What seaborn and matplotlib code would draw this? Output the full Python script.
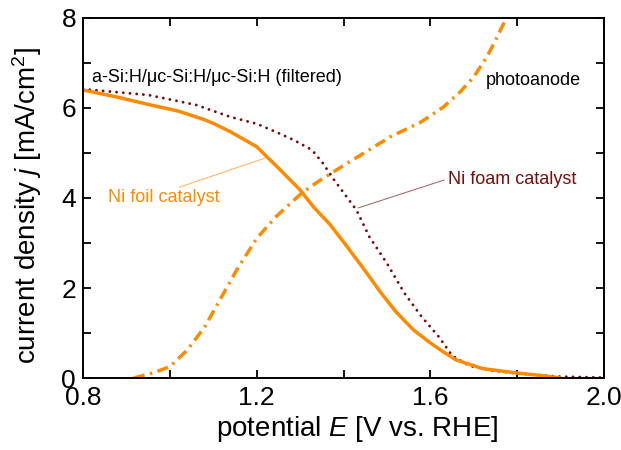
import numpy as np
import pandas as pd
import matplotlib
matplotlib.use("Agg")
import matplotlib.pyplot as plt
import seaborn as sns

# potential E [V vs. RHE] and current density j [mA/cm2]
foil_E = [0.80, 0.88, 0.95, 1.02, 1.08, 1.10, 1.14, 1.20, 1.255, 1.30, 1.331, 1.37,
          1.409, 1.45, 1.485, 1.52, 1.561, 1.60, 1.63, 1.66, 1.72, 1.80, 1.86, 1.90]
foil_j = [6.40, 6.24, 6.08, 5.93, 5.74, 5.66, 5.47, 5.14, 4.62, 4.18, 3.80, 3.40,
          2.91, 2.38, 1.91, 1.48, 1.07, 0.78, 0.58, 0.40, 0.21, 0.11, 0.05, 0.00]

foam_E = [0.80, 0.88, 0.95, 1.06, 1.14, 1.20, 1.244, 1.285, 1.327, 1.352, 1.377, 1.43,
          1.46, 1.50, 1.54, 1.58, 1.62, 1.65, 1.69, 1.74, 1.80, 1.90, 2.00]
foam_j = [6.42, 6.35, 6.29, 6.07, 5.80, 5.65, 5.47, 5.29, 5.07, 4.78, 4.42, 3.73,
          3.13, 2.55, 1.89, 1.36, 0.91, 0.50, 0.27, 0.17, 0.10, 0.03, 0.01]

anode_E = [0.917, 0.96, 1.00, 1.04, 1.08, 1.154, 1.20, 1.244, 1.306, 1.347, 1.41,
           1.508, 1.577, 1.63, 1.669, 1.70, 1.73, 1.754, 1.775]
anode_j = [0.00, 0.11, 0.25, 0.62, 1.13, 2.40, 3.10, 3.58, 4.13, 4.40, 4.78,
           5.36, 5.68, 6.02, 6.36, 6.69, 7.13, 7.58, 8.00]

orange = "#ff8a00"
darkred = "#7a0c0c"

sns.set_theme(style="ticks")
plt.rcParams["font.family"] = ["Liberation Sans", "DejaVu Sans"]
plt.rcParams["mathtext.fontset"] = "custom"
plt.rcParams["mathtext.rm"] = "Liberation Sans"
plt.rcParams["mathtext.it"] = "Liberation Sans:italic"

fig = plt.figure(figsize=(6.21, 4.5), dpi=100)
ax = fig.add_axes([83 / 621, 1 - 378 / 450, (604 - 83) / 621, (378 - 18) / 450])

foil = pd.DataFrame({"E": foil_E, "j": foil_j})
foam = pd.DataFrame({"E": foam_E, "j": foam_j})
anode = pd.DataFrame({"E": anode_E, "j": anode_j})

sns.lineplot(data=anode, x="E", y="j", ax=ax, color=orange, lw=2.5,
             linestyle=(0, (3.2, 1.6, 0.7, 1.6)), sort=False)
sns.lineplot(data=foam, x="E", y="j", ax=ax, color=darkred, lw=2.1,
             linestyle=(0, (0.01, 2.3)), dash_capstyle="round", sort=False)
sns.lineplot(data=foil, x="E", y="j", ax=ax, color=orange, lw=2.5, sort=False)

ax.set_xlim(0.8, 2.0)
ax.set_ylim(0, 8)
ax.set_xticks([0.8, 1.2, 1.6, 2.0])
ax.set_xticks([1.0, 1.4, 1.8], minor=True)
ax.set_yticks([0, 2, 4, 6, 8])
ax.set_yticks([1, 3, 5, 7], minor=True)
ax.set_xticklabels(["0.8", "1.2", "1.6", "2.0"])
ax.tick_params(which="both", direction="in", top=True, right=True, width=1.3,
               labelsize=19, color="black", labelcolor="black")
ax.tick_params(which="major", length=6)
ax.tick_params(which="minor", length=6)
ax.tick_params(axis="x", pad=6)
ax.tick_params(axis="y", pad=5)
for s in ax.spines.values():
    s.set_linewidth(1.4)
    s.set_color("black")

ax.set_xlabel("potential $E$ [V vs. RHE]", fontsize=20, color="black")
ax.set_ylabel("current density $j$ [mA/cm$^2$]", fontsize=20, color="black")
ax.xaxis.set_label_coords(0.526, -0.10)
ax.yaxis.set_label_coords(-0.075, 0.48)

ax.text(0.82, 6.67, "a-Si:H/\u03bcc-Si:H/\u03bcc-Si:H (filtered)", fontsize=13,
        va="center", ha="left", color="black")
ax.text(1.727, 6.62, "photoanode", fontsize=13, va="center", ha="left", color="black")
ax.text(0.857, 4.0, "Ni foil catalyst", fontsize=13, va="center", ha="left", color=orange)
ax.text(1.641, 4.4, "Ni foam catalyst", fontsize=13, va="center", ha="left", color=darkred)
ax.plot([1.022, 1.22], [4.24, 4.89], color=orange, lw=0.8, alpha=0.6)
ax.plot([1.632, 1.434], [4.4, 3.78], color=darkred, lw=0.8, alpha=0.6)

fig.savefig("out.png", dpi=100)
